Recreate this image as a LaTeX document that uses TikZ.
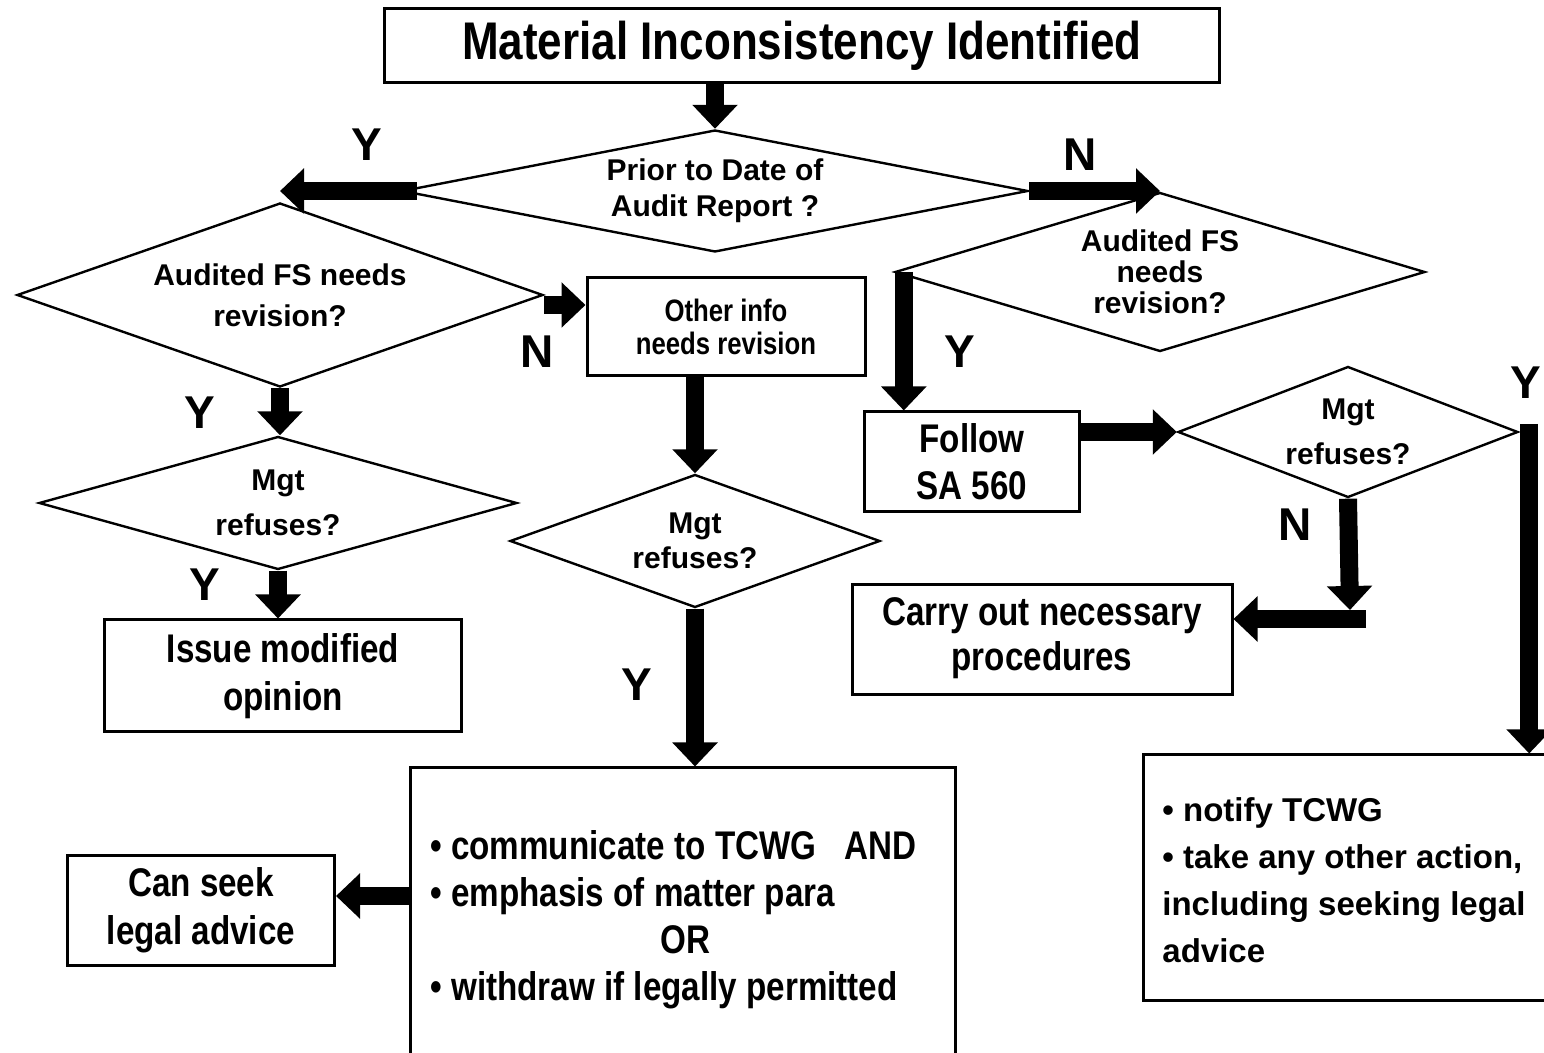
\documentclass[tikz,border=0pt]{standalone}
\usepackage{fontspec}
\setmainfont{Liberation Sans}
\newfontfamily\narrowsans{Liberation Sans}[FakeStretch=0.83]
\usetikzlibrary{shapes.geometric,arrows.meta}

\tikzset{
  box/.style={draw, line width=1.5pt, rectangle, inner sep=0pt, align=center,
    font=\narrowsans\bfseries\fontsize{20pt}{24pt}\selectfont},
  decision/.style={draw, line width=1.2pt, diamond, inner sep=0pt, align=center,
    font=\bfseries\fontsize{15pt}{18pt}\selectfont},
  flow/.style={line width=9pt, -{Triangle[width=22pt,length=12pt]}},
  yn/.style={font=\bfseries\fontsize{23pt}{23pt}\selectfont, inner sep=0pt},
}

\begin{document}
\begin{tikzpicture}[x=0.5pt,y=-0.5pt]
\clip (0,0) rectangle (1544,1053);
\fill[white] (0,0) rectangle (1544,1053);

% boxes
\node[box, font=\narrowsans\bfseries\fontsize{26.5pt}{30pt}\selectfont,
      minimum width=417.5pt, minimum height=37pt] (title) at (802,46)
      {Material Inconsistency Identified};
\node[box, font=\narrowsans\bfseries\fontsize{15.5pt}{16.5pt}\selectfont,
      minimum width=139pt, minimum height=49pt] (other) at (726,327)
      {Other info\\needs revision};
\node[box, minimum width=178.5pt, minimum height=56pt] (issue) at (283,676)
      {Issue modified\\opinion};
\node[box, font=\narrowsans\bfseries\fontsize{20pt}{23.5pt}\selectfont,
      minimum width=107.5pt, minimum height=50pt] (follow) at (972,462)
      {Follow\\SA 560};
\node[box, font=\narrowsans\bfseries\fontsize{20pt}{22.5pt}\selectfont,
      minimum width=190pt, minimum height=55pt] (carry) at (1042,640)
      {Carry out necessary\\[0pt]procedures\rule[-6pt]{0pt}{6pt}};
\node[box, minimum width=133.5pt, minimum height=55pt] (can) at (201,910)
      {Can seek\\legal advice};
\node[box, minimum width=272.5pt, minimum height=156pt] (big) at (682.5,924) {};
\node[anchor=west, inner sep=0pt, align=left,
      font=\narrowsans\bfseries\fontsize{20pt}{23.5pt}\selectfont] (bigtext) at (430,920)
      {\textbullet{} communicate to TCWG\ \ \ AND\\
       \textbullet{} emphasis of matter para\\
       \hspace*{115pt}OR\\
       \textbullet{} withdraw if legally permitted};
\node[box, minimum width=213.5pt, minimum height=122.5pt] (notify) at (1356.5,877.5) {};
\node[anchor=west, inner sep=0pt, align=left,
      font=\bfseries\fontsize{16.5pt}{23.5pt}\selectfont] (notifytext) at (1162,880)
      {\textbullet{} notify TCWG\\
       \textbullet{} take any other action,\\
       including seeking legal\\
       advice};

% decisions
\node[decision, shape aspect=5.13, minimum width=313pt, minimum height=61pt]
      (prior) at (715,191) {Prior to Date of\\Audit Report ?};
\node[decision, shape aspect=2.86, minimum width=263pt, minimum height=92pt,
      font=\bfseries\fontsize{15pt}{20.5pt}\selectfont]
      (fsleft) at (280,295) {Audited FS needs\\revision?};
\node[decision, shape aspect=3.59, minimum width=239pt, minimum height=66.5pt,
      font=\bfseries\fontsize{15pt}{22.5pt}\selectfont]
      (refleft) at (278,503) {Mgt\\refuses?};
\node[decision, shape aspect=2.78, minimum width=185pt, minimum height=66.5pt,
      font=\bfseries\fontsize{15pt}{17.5pt}\selectfont]
      (refmid) at (695,541) {Mgt\\refuses?};
\node[decision, shape aspect=3.33, minimum width=265pt, minimum height=79.5pt,
      font=\bfseries\fontsize{15pt}{15.5pt}\selectfont]
      (fsright) at (1160,272) {Audited FS\\needs\\revision?};
\node[decision, shape aspect=2.6, minimum width=170pt, minimum height=65.5pt,
      font=\bfseries\fontsize{15pt}{22.5pt}\selectfont]
      (refright) at (1348,432) {Mgt\\refuses?};

% connectors
\draw[flow] (title.south -| prior.north) -- (prior.north);
\draw[flow] ([xshift=8pt]prior.west) -- (prior.west -| fsleft.north);
\draw[flow] (prior.east) -- (prior.east -| fsright.north);
\coordinate (nleft) at ([yshift=-5pt]fsleft.east);
\draw[flow] (nleft) -- (nleft -| other.west);
\draw[flow] (other.south -| refmid.north) -- (refmid.north);
\draw[flow] (refmid.south) -- (refmid.south |- big.north);
\coordinate (canin) at ([yshift=7pt]can.east);
\draw[flow] (canin -| big.west) -- (canin);
\draw[flow] (fsleft.south) -- (fsleft.south |- refleft.north);
\draw[flow] (refleft.south) -- (refleft.south |- issue.north);
\coordinate (yright) at ([xshift=5pt]fsright.west);
\draw[flow] (yright) -- (yright |- follow.north);
\draw[flow] (refright.west -| follow.east) -- (refright.west);
\coordinate (njoin) at (1350,610);
\draw[flow] (refright.south) -- (njoin);
\coordinate (nbar) at (1366,619);
\draw[flow] (nbar) -- (nbar -| carry.east);
\coordinate (yfar) at ([xshift=5pt,yshift=4pt]refright.east);
\draw[flow] (yfar) -- (yfar |- notify.north);

% branch labels
\node[yn] (l1) at (367,145) {Y};
\node[yn] (l2) at (1080,155) {N};
\node[yn] (l3) at (537,352) {N};
\node[yn] (l4) at (200,413) {Y};
\node[yn] (l5) at (205,585) {Y};
\node[yn] (l6) at (637,685) {Y};
\node[yn] (l7) at (960,352) {Y};
\node[yn] (l8) at (1295,525) {N};
\node[yn] (l9) at (1526,383) {Y};
\end{tikzpicture}
\end{document}
